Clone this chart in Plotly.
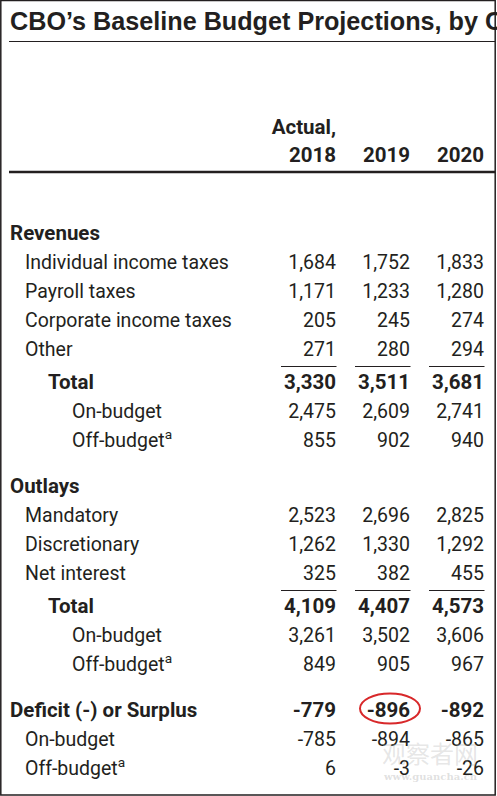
import plotly.graph_objects as go

# ---------------- data ----------------
title_text = "CBO’s Baseline Budget Projections, by C"
years = ["2018", "2019", "2020"]
year_prefix = ["Actual,", "", ""]

row_labels = [
    "Revenues", "Individual income taxes", "Payroll taxes", "Corporate income taxes", "Other",
    "Total", "On-budget", "Off-budget<sup>a</sup>",
    "Outlays", "Mandatory", "Discretionary", "Net interest",
    "Total", "On-budget", "Off-budget<sup>a</sup>",
    "Deficit (-) or Surplus", "On-budget", "Off-budget<sup>a</sup>",
]
row_levels = [0, 1, 1, 1, 1, 2, 3, 3, 0, 1, 1, 1, 2, 3, 3, 0, 1, 1]
row_bold = [True, False, False, False, False, True, False, False,
            True, False, False, False, True, False, False,
            True, False, False]

values_2018 = [None, 1684, 1171, 205, 271, 3330, 2475, 855,
               None, 2523, 1262, 325, 4109, 3261, 849, -779, -785, 6]
values_2019 = [None, 1752, 1233, 245, 280, 3511, 2609, 902,
               None, 2696, 1330, 382, 4407, 3502, 905, -896, -894, -3]
values_2020 = [None, 1833, 1280, 274, 294, 3681, 2741, 940,
               None, 2825, 1292, 455, 4573, 3606, 967, -892, -865, -26]
all_values = [values_2018, values_2019, values_2020]

highlight_row, highlight_col = 15, 1   # the circled -896

# ---------------- layout constants ----------------
W, H = 497, 796
INK = "#231f20"
FONT = "Roboto"
SIZE = 19.5
BOLD_SIZE = 20.5
TXT_DY = 2          # text glyph centre sits a little above its anchor
indent_x = {0: 10, 1: 25, 2: 48, 3: 72}
col_right = [336, 410, 484]
col_width = 55
first_row_y = 233
pitch = 29

# row y positions computed from structure
row_y = []
y = first_row_y
for i, lab in enumerate(row_labels):
    if i > 0:
        step = pitch
        if row_levels[i] == 0:
            step = pitch + 17
        elif row_levels[i] == 2:
            step = pitch + 4
        y += step
    row_y.append(y)

fig = go.Figure()

# title
fig.add_trace(go.Scatter(
    x=[10], y=[22 + TXT_DY], mode="text", text=[f"<b>{title_text}</b>"],
    textposition="middle right", cliponaxis=True,
    textfont=dict(family="Liberation Sans", size=25.2, color=INK), hoverinfo="skip"))

# header
for j, yr in enumerate(years):
    fig.add_trace(go.Scatter(
        x=[col_right[j], col_right[j]], y=[127 + TXT_DY, 155 + TXT_DY], mode="text",
        text=[f"<b>{year_prefix[j]}</b>", f"<b>{yr}</b>"],
        textposition="middle left",
        textfont=dict(family=FONT, size=BOLD_SIZE, color=INK), hoverinfo="skip"))

# row labels
for bold_flag in (False, True):
    idx = [i for i in range(len(row_labels)) if row_bold[i] == bold_flag]
    fig.add_trace(go.Scatter(
        x=[indent_x[row_levels[i]] for i in idx], y=[row_y[i] + TXT_DY for i in idx],
        mode="text",
        text=[f"<b>{row_labels[i]}</b>" if bold_flag else row_labels[i] for i in idx],
        textposition="middle right",
        textfont=dict(family=FONT, size=BOLD_SIZE if bold_flag else SIZE, color=INK),
        hoverinfo="skip"))

# values
for j, vals in enumerate(all_values):
    for bold_flag in (False, True):
        xs, ys, ts = [], [], []
        for i, v in enumerate(vals):
            if v is None or row_bold[i] != bold_flag:
                continue
            s = f"{v:,}"
            if bold_flag:
                s = f"<b>{s}</b>"
            xs.append(col_right[j]); ys.append(row_y[i] + TXT_DY); ts.append(s)
        fig.add_trace(go.Scatter(
            x=xs, y=ys, mode="text", text=ts, textposition="middle left",
            textfont=dict(family=FONT, size=BOLD_SIZE if bold_flag else SIZE, color=INK),
            hoverinfo="skip"))

shapes = []
# outer frame
shapes.append(dict(type="rect", xref="x", yref="y", x0=0.8, x1=495.2, y0=0.6, y1=795,
                   line=dict(color=INK, width=1.5), layer="above"))
# rule under title
shapes.append(dict(type="line", xref="x", yref="y", x0=9, x1=495, y0=41.5, y1=41.5,
                   line=dict(color=INK, width=1.2)))
# thick rule under header
shapes.append(dict(type="line", xref="x", yref="y", x0=9, x1=495, y0=172, y1=172,
                   line=dict(color=INK, width=2.6)))
# subtotal rules above Total rows
for i, lv in enumerate(row_levels):
    if lv == 2:
        ly = row_y[i] - 15.5
        for cr in col_right:
            shapes.append(dict(type="line", xref="x", yref="y", x0=cr - col_width, x1=cr + 0.5,
                               y0=ly, y1=ly, line=dict(color=INK, width=1.2)))
# red ellipse round highlighted cell
cx = col_right[highlight_col] - 20
cy = row_y[highlight_row] - 1.5
shapes.append(dict(type="circle", xref="x", yref="y", x0=cx - 30, x1=cx + 30,
                   y0=cy - 15, y1=cy + 15, line=dict(color="#d8282a", width=2)))

annotations = [
    dict(x=430, y=752, xref="x", yref="y", text="观察者网", showarrow=False,
         font=dict(family="Noto Sans CJK SC", size=24, color="rgba(170,170,170,0.3)")),
    dict(x=430, y=776, xref="x", yref="y", text="<b>www.guancha.cn</b>", showarrow=False,
         font=dict(family="DejaVu Serif", size=10, color="rgba(150,150,150,0.3)")),
]

fig.update_layout(
    width=W, height=H, margin=dict(l=0, r=0, t=0, b=0),
    paper_bgcolor="white", plot_bgcolor="white", showlegend=False,
    xaxis=dict(range=[0, W], visible=False, fixedrange=True),
    yaxis=dict(range=[H, 0], visible=False, fixedrange=True),
    shapes=shapes, annotations=annotations,
)

# page has a default 8px body margin; remove it so the 497x796 figure fills the window
fig.write_html("out.html", post_script="document.body.style.margin='0';",
               config={"displayModeBar": False})
